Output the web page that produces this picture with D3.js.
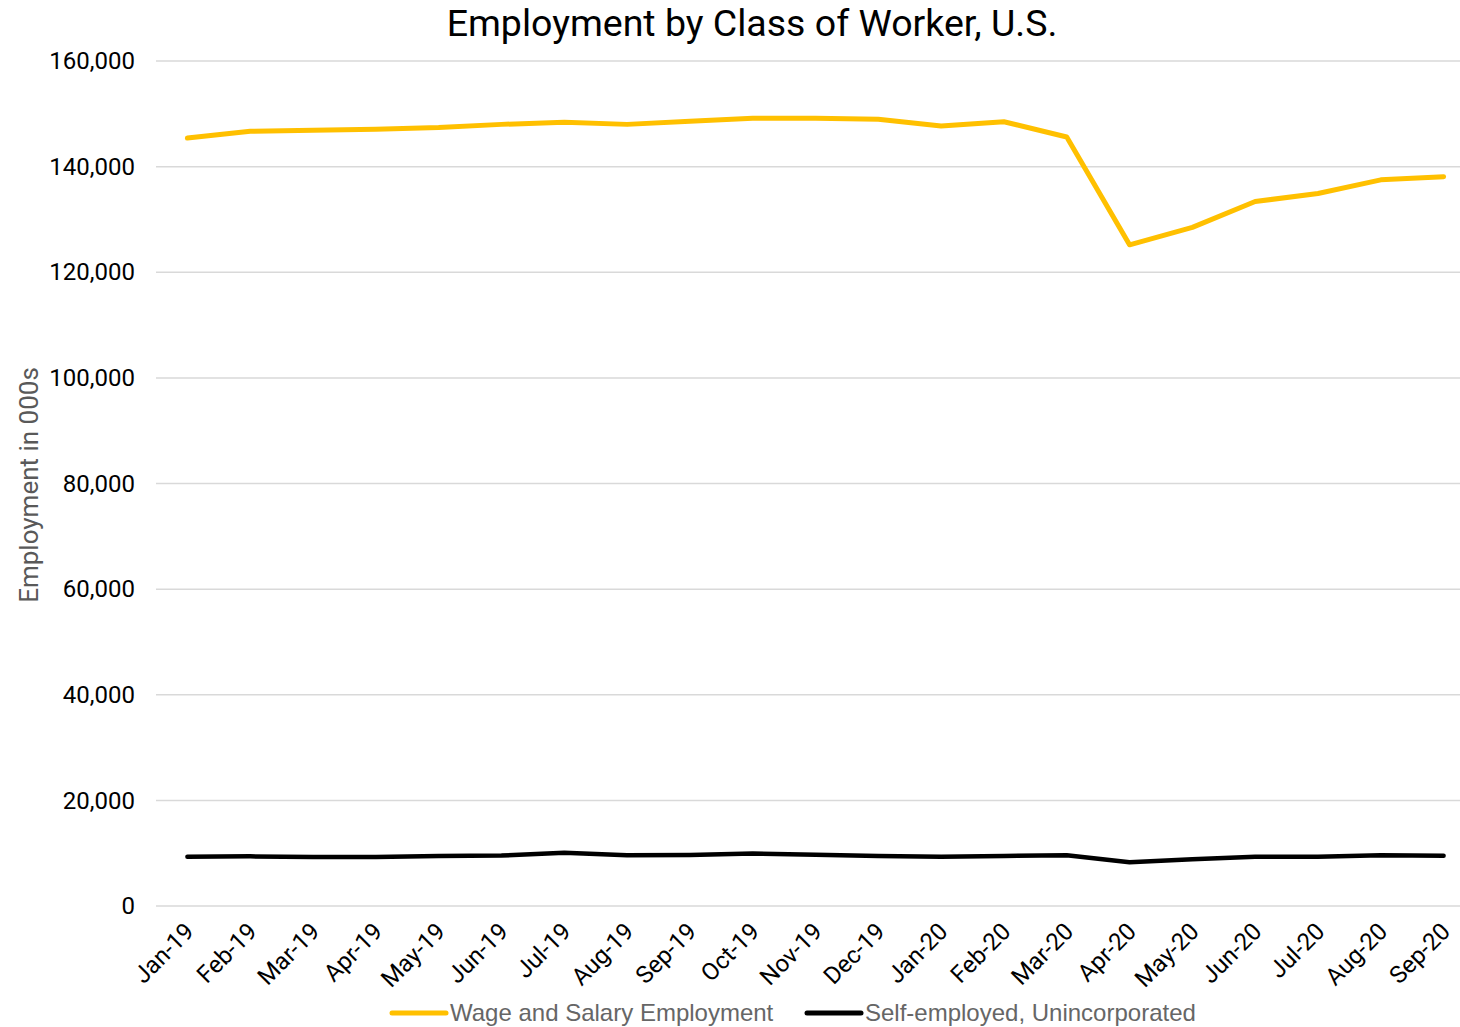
<!DOCTYPE html>
<html>
<head>
<meta charset="utf-8">
<script src="https://cdn.jsdelivr.net/npm/d3@7"></script>
<style>
  body { margin: 0; background: #fff; }
  svg { display: block; }
</style>
</head>
<body>
<svg id="chart"></svg>
<script>
// months on the x axis
var months = ["Jan-19","Feb-19","Mar-19","Apr-19","May-19","Jun-19","Jul-19","Aug-19","Sep-19","Oct-19","Nov-19","Dec-19",
              "Jan-20","Feb-20","Mar-20","Apr-20","May-20","Jun-20","Jul-20","Aug-20","Sep-20"]
// employment in 000s
var wageSalary = [145400,146700,146900,147100,147400,148000,148400,148000,148600,149150,149150,148950,
                  147700,148500,145600,125200,128500,133400,134900,137500,138100]
var selfEmployed = [9340,9400,9300,9300,9450,9550,10100,9600,9650,9950,9700,9470,
                    9340,9470,9600,8270,8840,9340,9340,9600,9530]
var yTicks = [0,20000,40000,60000,80000,100000,120000,140000,160000]
var seriesNames = ["Wage and Salary Employment","Self-employed, Unincorporated"]
var seriesColors = ["#FFC000","#000000"]

var screen = {width: 1460, height: 1027}
var plot = {left: 156, right: 1475, top: 61, bottom: 906}

var svg = d3.select("#chart")
    .attr("width", screen.width)
    .attr("height", screen.height)

var xScale = d3.scaleBand()
    .domain(months)
    .range([plot.left, plot.right])

var yScale = d3.scaleLinear()
    .domain([0,160000])
    .range([plot.bottom, plot.top])

var fmt = d3.format(",")

// gridlines
svg.append("g").selectAll("line")
    .data(yTicks)
    .enter()
    .append("line")
    .attr("x1", plot.left)
    .attr("x2", plot.right)
    .attr("y1", function(d){ return yScale(d) })
    .attr("y2", function(d){ return yScale(d) })
    .attr("stroke", "#d9d9d9")
    .attr("stroke-width", 1.5)

// y axis labels
var yAxis = d3.axisLeft(yScale).tickValues(yTicks).tickFormat(fmt).tickSize(0).tickPadding(21)
svg.append("g")
    .attr("transform", "translate(" + plot.left + ",0)")
    .call(yAxis)
    .call(function(g){ g.select(".domain").remove() })
    .selectAll("text")
    .attr("font-family", "Roboto")
    .attr("font-size", 24)
    .attr("fill", "#000")

// x axis labels
var xAxis = d3.axisBottom(xScale).tickSize(0).tickPadding(0)
svg.append("g")
    .attr("transform", "translate(0," + plot.bottom + ")")
    .call(xAxis)
    .call(function(g){ g.select(".domain").remove() })
    .selectAll("text")
    .attr("font-family", "Roboto")
    .attr("font-size", 24)
    .attr("fill", "#000")
    .attr("text-anchor", "end")
    .attr("dy", 0)
    .attr("transform", "translate(8,27) rotate(-45)")

// lines
var line = d3.line()
    .x(function(d, i){ return xScale(months[i]) + xScale.bandwidth()/2 })
    .y(function(d){ return yScale(d) })

var allSeries = [wageSalary, selfEmployed]
svg.append("g").selectAll("path")
    .data(allSeries)
    .enter()
    .append("path")
    .attr("d", line)
    .attr("fill", "none")
    .attr("stroke", function(d, i){ return seriesColors[i] })
    .attr("stroke-width", function(d, i){ return i == 0 ? 5 : 4.5 })
    .attr("stroke-linecap", "round")
    .attr("stroke-linejoin", "round")

// title
svg.append("text")
    .attr("x", 752)
    .attr("y", 36)
    .attr("text-anchor", "middle")
    .attr("font-family", "Roboto")
    .attr("font-size", 37.5)
    .attr("fill", "#000")
    .text("Employment by Class of Worker, U.S.")

// y axis title
svg.append("text")
    .attr("transform", "translate(38,485) rotate(-90)")
    .attr("text-anchor", "middle")
    .attr("font-family", "Roboto")
    .attr("font-size", 26)
    .attr("fill", "#595959")
    .text("Employment in 000s")

// legend
var legendX = [392, 807]
var legend = svg.append("g").selectAll("g")
    .data(seriesNames)
    .enter()
    .append("g")
    .attr("transform", function(d, i){ return "translate(" + legendX[i] + ",1013)" })
legend.append("line")
    .attr("x1", 0).attr("x2", 54)
    .attr("stroke", function(d, i){ return seriesColors[i] })
    .attr("stroke-width", 5)
    .attr("stroke-linecap", "round")
legend.append("text")
    .attr("x", 58)
    .attr("y", 8)
    .attr("font-family", "Liberation Sans, Arial")
    .attr("font-size", 24)
    .attr("fill", "#666")
    .text(function(d){ return d })
</script>
</body>
</html>
